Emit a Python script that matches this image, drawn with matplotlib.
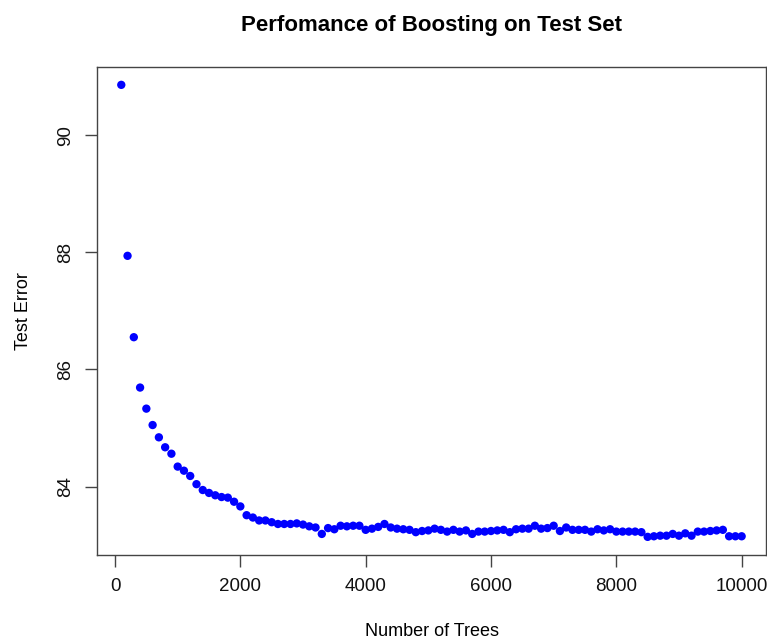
import numpy as np
import matplotlib
matplotlib.use("Agg")
import matplotlib.pyplot as plt

# ------------------------------------
# DATA
# ------------------------------------
n_trees = list(range(100, 10001, 100))

test_error = [
    90.86, 87.94, 86.55, 85.69, 85.33, 85.05, 84.84, 84.67, 84.56, 84.34,
    84.27, 84.18, 84.04, 83.94, 83.89, 83.85, 83.82, 83.81, 83.74, 83.66,
    83.51, 83.47, 83.42, 83.42, 83.39, 83.36, 83.36, 83.36, 83.37, 83.35,
    83.32, 83.30, 83.19, 83.29, 83.27, 83.33, 83.32, 83.33, 83.33, 83.26,
    83.28, 83.31, 83.36, 83.30, 83.28, 83.27, 83.26, 83.22, 83.24, 83.25,
    83.28, 83.26, 83.23, 83.26, 83.23, 83.25, 83.19, 83.23, 83.23, 83.24,
    83.25, 83.26, 83.22, 83.27, 83.28, 83.28, 83.33, 83.28, 83.29, 83.33,
    83.24, 83.30, 83.26, 83.26, 83.26, 83.23, 83.27, 83.25, 83.27, 83.23,
    83.23, 83.23, 83.23, 83.22, 83.14, 83.15, 83.16, 83.16, 83.19, 83.16,
    83.20, 83.16, 83.23, 83.23, 83.24, 83.25, 83.26, 83.15, 83.15, 83.15,
]

x_ticks = [0, 2000, 4000, 6000, 8000, 10000]
y_ticks = [84, 86, 88, 90]

TITLE = "Perfomance of Boosting on Test Set"
XLABEL = "Number of Trees"
YLABEL = "Test Error"

# ------------------------------------
# PLOT (R base-graphics look)
# ------------------------------------
plt.rcParams["font.family"] = ["Liberation Sans", "DejaVu Sans"]

fig = plt.figure(figsize=(7.67, 6.42), dpi=100)
ax = fig.add_axes([0.1261, 0.1355, 0.8732, 0.7606])

ax.scatter(n_trees, test_error, s=36, color="#0000FF", edgecolors="none", zorder=3)

ax.set_xlim(-292, 10396)
ax.set_ylim(82.83, 91.17)

ax.set_xticks(x_ticks)
ax.set_xticklabels([str(v) for v in x_ticks])
ax.set_yticks(y_ticks)
ax.set_yticklabels([str(v) for v in y_ticks], rotation=90, va="center")

ax.tick_params(axis="both", direction="out", length=8.5, width=1.0,
               color="#444444", labelsize=13.5, labelcolor="#111111", pad=8)

for sp in ax.spines.values():
    sp.set_color("#444444")
    sp.set_linewidth(1.0)

ax.set_title(TITLE, fontsize=16, fontweight="bold", pad=26)
ax.set_xlabel(XLABEL, fontsize=13, labelpad=20)
ax.set_ylabel(YLABEL, fontsize=13, labelpad=18)

fig.savefig("out.png", dpi=100)
plt.close(fig)
